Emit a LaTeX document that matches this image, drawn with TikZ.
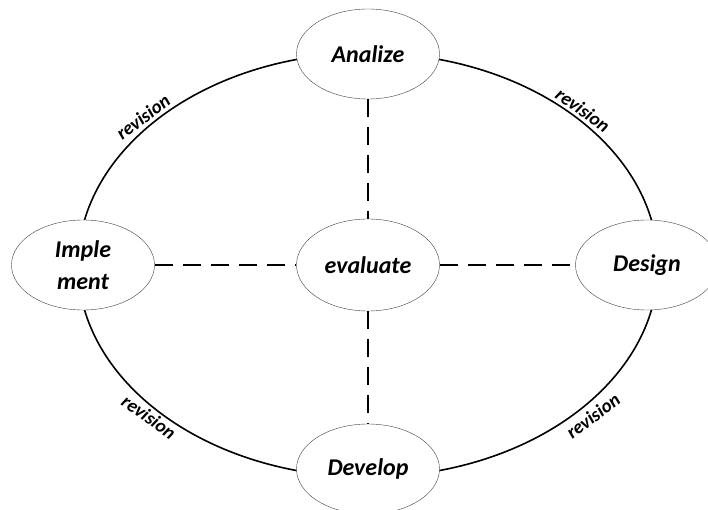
\documentclass[tikz,border=0pt]{standalone}
\usepackage{fontspec}
\setmainfont{Carlito}
\usepackage{tikz}
\usetikzlibrary{shapes,positioning}

\begin{document}
\begin{tikzpicture}[x=1pt,y=-1pt,
	phase/.style={draw=black!75, fill=white, ellipse, inner sep=0pt,
		minimum width=143pt, minimum height=90pt, align=center,
		font=\fontsize{24}{32}\selectfont\bfseries\itshape},
	link/.style={line width=1.4pt, dash pattern=on 18pt off 10pt},
	rev/.style={font=\fontsize{19}{22}\selectfont\bfseries\itshape}]
	\useasboundingbox (0,0) rectangle (708,510);
	% outer cycle
	\draw[line width=1.6pt] (368,265) ellipse [x radius=290, y radius=212];
	% the five phases
	\node[phase] (analize) at (368,54) {Analize};
	\node[phase] (implement) at (83,265) {Imple\\ment};
	\node[phase, minimum height=92pt] (evaluate) at (368,265) {evaluate};
	\node[phase] (design) at (647,265) {Design};
	\node[phase] (develop) at (368,469) {Develop};
	% links to the centre
	\draw[link] (analize) -- (evaluate);
	\draw[link] (implement.east) -- (evaluate.west);
	\draw[link] (evaluate.east) -- (design.west);
	\draw[link] (evaluate) -- (develop);
	% labels on the cycle
	\node[rev, rotate=37] (rev1) at (143,117) {revision};
	\node[rev, rotate=-36] (rev2) at (583,110) {revision};
	\node[rev, rotate=-36] (rev3) at (149,417) {revision};
	\node[rev, rotate=37] (rev4) at (593,416) {revision};
\end{tikzpicture}
\end{document}
